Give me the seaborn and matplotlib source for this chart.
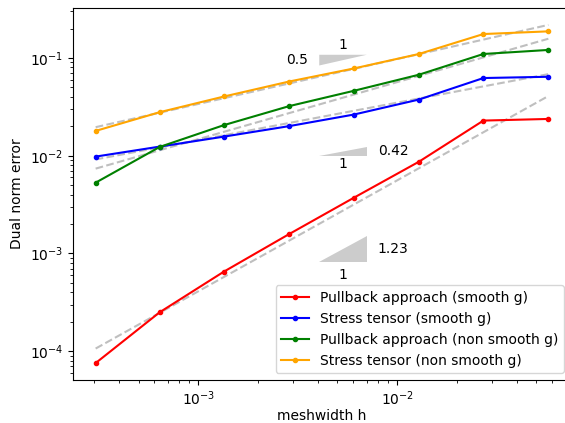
import numpy as np
import matplotlib
matplotlib.use("Agg")
import matplotlib.pyplot as plt
import seaborn as sns

# meshwidths and errors
h = [3.04e-4, 6.38e-4, 1.345e-3, 2.86e-3, 6.05e-3, 1.285e-2, 2.71e-2, 5.75e-2]

pullback_smooth = [7.55e-5, 2.50e-4, 6.53e-4, 1.58e-3, 3.72e-3, 8.69e-3, 2.29e-2, 2.38e-2]
stress_smooth = [9.8e-3, 1.24e-2, 1.57e-2, 2.01e-2, 2.64e-2, 3.76e-2, 6.24e-2, 6.43e-2]
pullback_nonsmooth = [5.3e-3, 1.23e-2, 2.06e-2, 3.22e-2, 4.62e-2, 6.75e-2, 1.10e-1, 1.21e-1]
stress_nonsmooth = [1.795e-2, 2.79e-2, 4.04e-2, 5.75e-2, 7.82e-2, 1.10e-1, 1.76e-1, 1.875e-1]

labels = ["Pullback approach (smooth g)", "Stress tensor (smooth g)",
          "Pullback approach (non smooth g)", "Stress tensor (non smooth g)"]
colors = ["red", "blue", "green", "orange"]
series = [pullback_smooth, stress_smooth, pullback_nonsmooth, stress_nonsmooth]

# slope triangles: series index, rate label, anchor y
tri_series = [3, 1, 0]
tri_rates = ["0.5", "0.42", "1.23"]
tri_y = [0.108, 1.003e-2, 8.09e-4]
tri_x0 = 4.05e-3
tri_x1 = 7.02e-3

fig = plt.figure(figsize=(5.65, 4.23), dpi=100)
ax = fig.add_axes([73 / 565, 1 - 380 / 423, 498 / 565, 372 / 423])
ax.set_xscale("log")
ax.set_yscale("log")

logh = np.log10(h)
slopes = []
for err in series:
    p = np.polyfit(logh, np.log10(err), 1)
    slopes.append(p[0])
    ax.plot(h, 10 ** np.polyval(p, logh), "--", color="gray", alpha=0.5, lw=1.5, zorder=1)

for err, lab, c in zip(series, labels, colors):
    sns.lineplot(x=h, y=err, color=c, marker=".", markersize=6, markeredgecolor=c,
                 markeredgewidth=1, lw=1.5, label=lab, ax=ax, zorder=2)

ratio = tri_x1 / tri_x0
xm = np.sqrt(tri_x0 * tri_x1)
for k, (si, rate, y0) in enumerate(zip(tri_series, tri_rates, tri_y)):
    rise = ratio ** slopes[si]
    if k == 0:
        # inverted triangle: horizontal edge on top, vertical edge on the left
        xs = [tri_x0, tri_x1, tri_x0]
        ys = [y0, y0, y0 / rise]
        ax.fill(xs, ys, color="gray", alpha=0.4, lw=0)
        ax.annotate("1", (xm, y0), xytext=(0, 2), textcoords="offset points",
                    ha="center", va="bottom")
        ax.annotate(rate, (tri_x0, y0 / np.sqrt(rise)), xytext=(-8, 0),
                    textcoords="offset points", ha="right", va="center")
    else:
        xs = [tri_x0, tri_x1, tri_x1]
        ys = [y0, y0, y0 * rise]
        ax.fill(xs, ys, color="gray", alpha=0.4, lw=0)
        ax.annotate("1", (xm, y0), xytext=(0, -1 if k == 1 else -4),
                    textcoords="offset points", ha="center", va="top")
        ax.annotate(rate, (tri_x1, y0 * np.sqrt(rise)), xytext=(8, 0),
                    textcoords="offset points", ha="left", va="center")

ax.set_xlabel("meshwidth h", labelpad=0.5)
ax.set_ylabel("Dual norm error")
ax.legend(loc="lower right")

fig.savefig("out.png", dpi=100)
